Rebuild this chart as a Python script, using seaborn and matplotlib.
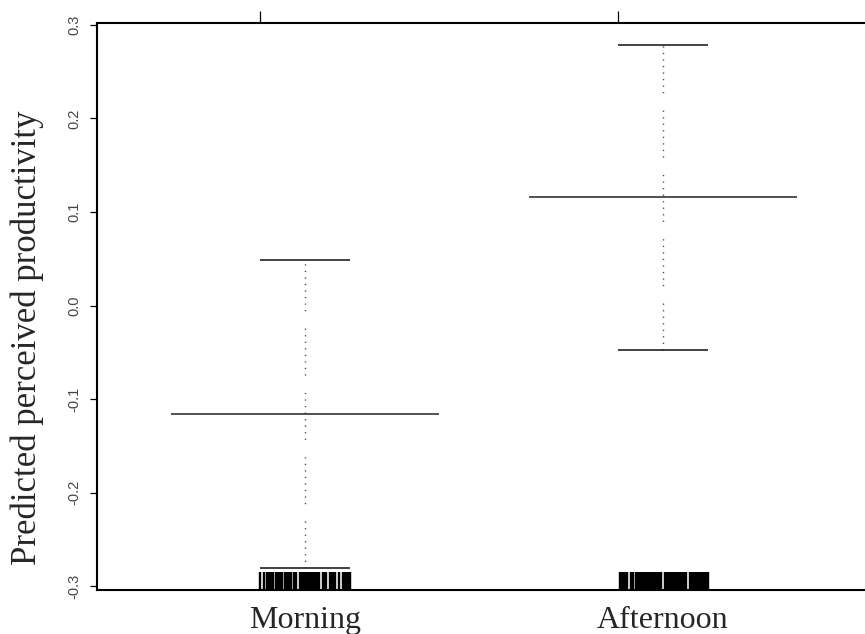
import matplotlib
matplotlib.use("Agg")
import matplotlib.pyplot as plt
import seaborn as sns
import numpy as np

# ---- data ----
categories = ["Morning", "Afternoon"]
estimates = [-0.116, 0.116]
lower = [-0.281, -0.047]
upper = [0.049, 0.279]
ytick_values = [-0.3, -0.2, -0.1, 0.0, 0.1, 0.2, 0.3]
ytick_labels = ["-0.3", "-0.2", "-0.1", "0.0", "0.1", "0.2", "0.3"]

morning_rug = [-0.125, -0.115, -0.105, -0.100, -0.095, -0.090, -0.080, -0.075,
               -0.070, -0.065, -0.055, -0.050, -0.045, -0.040, -0.030, -0.025,
               -0.015, -0.010, -0.005, 0.000, 0.005, 0.010, 0.015, 0.020,
               0.025, 0.030, 0.035, 0.040, 0.050, 0.055, 0.060, 0.070,
               0.075, 0.080, 0.085, 0.095, 0.105, 0.110, 0.115, 0.120, 0.125]
afternoon_rug = [0.880, 0.885, 0.890, 0.895, 0.900, 0.910, 0.915, 0.925,
                 0.930, 0.935, 0.940, 0.945, 0.950, 0.955, 0.960, 0.965,
                 0.970, 0.975, 0.980, 0.985, 0.990, 0.995, 1.005, 1.010,
                 1.015, 1.020, 1.025, 1.030, 1.035, 1.040, 1.045, 1.050,
                 1.055, 1.060, 1.065, 1.075, 1.080, 1.085, 1.090, 1.095,
                 1.100, 1.105, 1.110, 1.115, 1.120, 1.125]

# ---- plot ----
sns.set_style("white")
plt.rcParams["font.family"] = ["Liberation Sans", "DejaVu Sans"]

fig = plt.figure(figsize=(8.65, 6.34), dpi=100)
ax = fig.add_axes([0.1121, 0.0694, 0.8879, 0.8943])

cats = np.arange(len(categories))
ax.set_xlim(-0.581, 1.564)
ax.set_ylim(-0.304, 0.302)

# rugs
sns.rugplot(x=morning_rug, height=0.032, color="black", linewidth=1.75,
            ax=ax, expand_margins=False)
sns.rugplot(x=afternoon_rug, height=0.032, color="black", linewidth=1.75,
            ax=ax, expand_margins=False)

# confidence intervals (dotted)
dots = (0, (0.9, 3.8) * 7 + (0.9, 12.5))
ax.vlines(cats, lower, upper, colors="#444444", linewidth=1.0, linestyles=[dots])
# caps
ax.hlines(lower, cats - 0.125, cats + 0.125, colors="#222222", linewidth=1.2)
ax.hlines(upper, cats - 0.125, cats + 0.125, colors="#222222", linewidth=1.2)
# estimates
ax.hlines(estimates, cats - 0.374, cats + 0.374, colors="#222222", linewidth=1.1)

# spines
for s in ["left", "top", "bottom"]:
    ax.spines[s].set_linewidth(1.5)
    ax.spines[s].set_color("black")
ax.spines["right"].set_visible(False)

# x axis: labels at categories, top ticks offset
ax.set_xticks(cats)
ax.set_xticklabels(categories, fontsize=23, family=["Liberation Serif", "DejaVu Serif"])
ax.tick_params(axis="x", which="major", bottom=False, top=False, length=0, pad=11.5)
ax.set_xticks(cats - 0.125, minor=True)
ax.tick_params(axis="x", which="minor", bottom=False, top=True, length=8.6,
               width=0.9, color="black", direction="out")

# y axis
ax.set_yticks(ytick_values)
ax.set_yticklabels(ytick_labels, rotation=90, va="center", fontsize=10.5, color="#444444")
ax.tick_params(axis="y", left=True, length=5, width=0.9, color="black",
               direction="out", pad=6.5)

ax.set_ylabel("Predicted perceived productivity", fontsize=25,
              family=["Liberation Serif", "DejaVu Serif"])
ax.yaxis.set_label_coords(-0.0696, 0.445)

fig.savefig("out.png", dpi=100)
